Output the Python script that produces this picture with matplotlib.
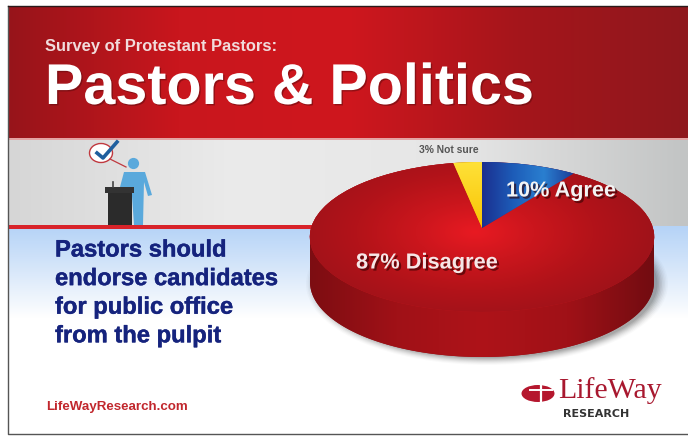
import numpy as np
import matplotlib
matplotlib.use("Agg")
import matplotlib.pyplot as plt
import matplotlib.patheffects as pe
from matplotlib.colors import LinearSegmentedColormap as LSC
from matplotlib.patches import Circle, Ellipse, Polygon, Rectangle
from matplotlib.transforms import Transform

# Survey answers, in percent, clockwise from twelve o'clock
answers = ["Agree", "Disagree", "Not sure"]
shares = [10, 87, 3]
slice_labels = ["10% Agree", "87% Disagree", "3% Not sure"]

eyebrow = "Survey of Protestant Pastors:"
headline = "Pastors & Politics"
statement = ["Pastors should", "endorse candidates", "for public office", "from the pulpit"]
website = "LifeWayResearch.com"

W, H = 688, 438
CX, APEX_Y, RX = 482.0, 228.0, 171.0
RY, TILT = 73.9, 0.12
RIM_Y, RIM_RX, RIM_RY, DEPTH = 237.0, 172.0, 75.0, 45.0


class TiltedDisc(Transform):
    """Perspective projection of the unit disc onto the slide, in pixels."""
    input_dims = output_dims = 2

    def transform_non_affine(self, xy):
        xy = np.asarray(xy, float)
        w = 1 + TILT * xy[:, 1]
        return np.column_stack([CX + RX * xy[:, 0] / w, APEX_Y - RY * xy[:, 1] / w])


def grad(ax, extent, colors, horizontal=True, clip=None, zorder=1, n=256):
    t = np.linspace(0, 1, n)
    arr = t[None, :] if horizontal else t[:, None]
    im = ax.imshow(arr, cmap=LSC.from_list("g", colors), extent=extent, vmin=0, vmax=1,
                   aspect="auto", interpolation="bilinear", zorder=zorder)
    if clip is not None:
        im.set_clip_path(clip)
    return im


def heavy(color, width=0.3):
    return [pe.withStroke(linewidth=width, foreground=color)]


fig = plt.figure(figsize=(W / 100, H / 100), dpi=100, facecolor="white")
ax = fig.add_axes([0, 0, 1, 1])
plt.rcParams["font.family"] = ["Liberation Sans", "DejaVu Sans"]

wedges, _ = ax.pie(shares, startangle=90, counterclock=False, radius=1,
                   colors=["#1c3a9c", "#c2161c", "#f7c800"],
                   wedgeprops=dict(linewidth=0, zorder=6))

ax.set_aspect("auto")
ax.set_xlim(0, W)
ax.set_ylim(H, 0)
ax.axis("off")

# Slide panels
L, R, T, B = 8, W, 6, 434
grad(ax, (L, R, 138, T), ["#97141a", "#c9161d", "#cf171e", "#a5151b", "#8f181d"])
ax.add_patch(Rectangle((L, 137.5), R - L, 2, fc="#e3a3a3", ec="none", zorder=2))
grad(ax, (L, R, 226, 139), ["#d6d6d6", "#ebebeb", "#e6e6e6", "#c2c4c4"])
grad(ax, (L, R, 318, 226), ["#b5d3f7", "#d9e8fa", "#ffffff"], horizontal=False)
ax.add_patch(Rectangle((L, 225), 306, 3.5, fc="#d8232a", ec="none", zorder=2))
ax.plot([L, L, R], [T, B, B], color="#555555", lw=1.0, zorder=20)
ax.plot([L, R], [T, T], color="#2a1a1a", lw=1.0, zorder=20)

# Soft shadow under the disc
for i, a in enumerate(np.linspace(0.03, 0.11, 8)):
    ax.add_patch(Ellipse((CX + 5, RIM_Y + DEPTH + 2), 2 * RIM_RX + 18 - i * 3, 2 * RIM_RY + 12 - i * 2,
                         fc="black", alpha=a * 0.7, ec="none", zorder=3))

# Rim of the disc
t = np.linspace(0, 2 * np.pi, 200)
silhouette = Polygon(np.column_stack([
    CX + RIM_RX * np.cos(t),
    np.where(np.sin(t) >= 0, RIM_Y + DEPTH + RIM_RY * np.sin(t), RIM_Y + RIM_RY * np.sin(t))]),
    fc="#8f1015", ec="none", zorder=4)
ax.add_patch(silhouette)
grad(ax, (CX - RIM_RX, CX + RIM_RX, 360, 230),
     ["#7d0d12", "#a01117", "#ae1319", "#a01117", "#720c11"], clip=silhouette, zorder=5)

# Disc face: the pie wedges, tilted into perspective, with their shading
disc = TiltedDisc() + ax.transData
for w in wedges:
    w.set_transform(disc)

xx, yy = np.meshgrid(np.linspace(305, 660, 360), np.linspace(155, 320, 170))
rr = np.hypot((xx - 475) / 178, (yy - 232) / 88)
red_map = LSC.from_list("r", ["#e81a22", "#cb161d", "#b31319", "#a0121a"])
im = ax.imshow(np.clip(rr, 0, 1), cmap=red_map, extent=(305, 660, 320, 155), aspect="auto",
               interpolation="bilinear", zorder=7, vmin=0, vmax=1)
im.set_clip_path(wedges[1])
grad(ax, (482, 575, 232, 160), ["#1b2f8f", "#1d5cb8", "#2a7fd0", "#1a3a96"],
     clip=wedges[0], zorder=7)
grad(ax, (450, 484, 232, 160), ["#ffe23a", "#f8c200"], horizontal=False,
     clip=wedges[2], zorder=7)

# Headings
ax.text(45, 46, eyebrow, color="#f1dcdc", fontsize=11.9, fontweight="bold", va="center", zorder=9)
ax.text(45, 89, headline, color="white", fontsize=41.4, fontweight="bold", va="center", zorder=9,
        path_effects=[pe.withSimplePatchShadow(offset=(1, -1), shadow_rgbFace="#5a0a0d", alpha=0.5)])

# Statement block
for i, line in enumerate(statement):
    ax.text(55, 250 + i * 28.6, line, color="#15237d", fontsize=17.1, fontweight="bold",
            va="center", zorder=9, path_effects=heavy("#15237d"))
ax.text(46, 407, website, color="#c1272d", fontsize=9.6, fontweight="bold", va="center", zorder=9)

# Slice labels
soft = [pe.withSimplePatchShadow(offset=(1.5, -1.5), shadow_rgbFace="#300000", alpha=0.6)]
ax.text(506, 191, slice_labels[0], color="#f4f4f4", fontsize=15.6, fontweight="bold", va="center",
        zorder=9, path_effects=soft)
ax.text(356, 263, slice_labels[1], color="#f6e6e6", fontsize=15.7, fontweight="bold", va="center",
        zorder=9, path_effects=soft)
ax.text(448.5, 150, slice_labels[2], color="#555555", fontsize=7.4, fontweight="bold", va="center",
        ha="center", zorder=9)

# Speaker at the lectern
blue = "#5aa9dc"
ax.add_patch(Circle((133.5, 163.5), 5.6, fc=blue, ec="none", zorder=8))
ax.add_patch(Polygon([(124, 172), (145, 172), (152, 195), (148, 196), (144, 182), (143, 225),
                      (134, 225), (132, 196), (120, 187)],
                     fc=blue, ec="none", zorder=8))
ax.add_patch(Rectangle((108, 193), 24, 32, fc="#2b2b2b", ec="none", zorder=9))
ax.add_patch(Rectangle((105, 187), 29, 6, fc="#333333", ec="none", zorder=9))
ax.plot([113, 113], [182, 187], color="#444444", lw=1.2, zorder=9)
ax.add_patch(Ellipse((101, 153), 23, 19, fc="white", ec="#c0393f", lw=1, zorder=8))
ax.plot([110, 126], [159, 167], color="#c0393f", lw=0.9, zorder=8)
ax.plot([97, 103, 117], [153, 158, 142], color="#1f5f9e", lw=2.6, zorder=9)

# LifeWay mark
ax.add_patch(Ellipse((538, 393.5), 33, 17, fc="#b5172e", ec="none", zorder=8))
ax.plot([541, 541], [385, 402], color="white", lw=1.6, zorder=9)
ax.plot([530, 552], [390, 390], color="white", lw=1.4, zorder=9)
ax.text(558, 391, "LifeWay", family="Liberation Serif", color="#a8182f", fontsize=21.5, va="center", zorder=9)
ax.text(563, 414, "RESEARCH", family="DejaVu Sans", color="#333333", fontsize=8, fontweight="bold",
        va="center", zorder=9)

fig.savefig("out.png", dpi=100)
